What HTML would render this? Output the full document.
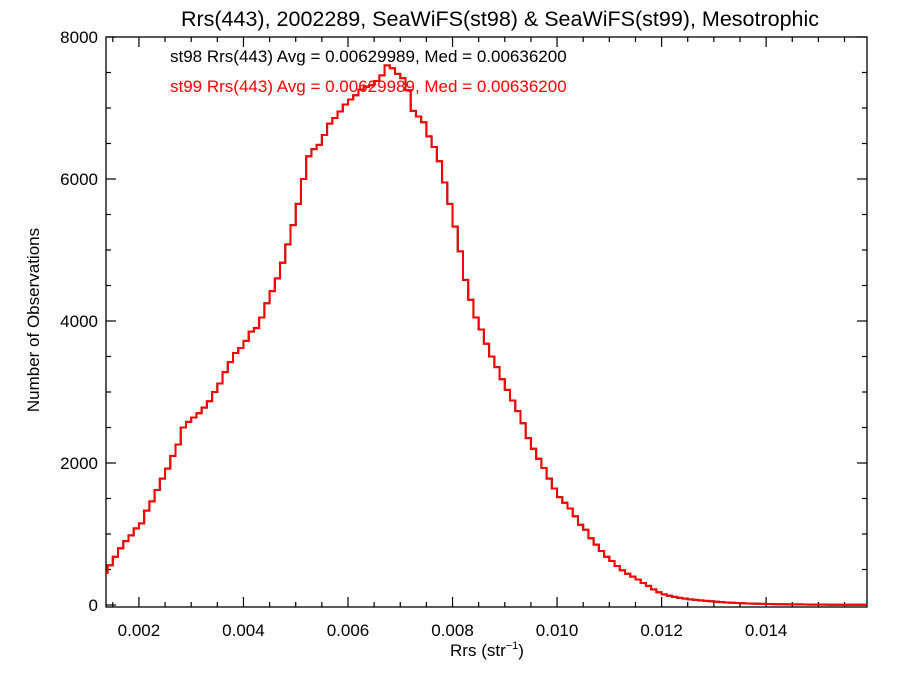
<!DOCTYPE html>
<html><head><meta charset="utf-8"><style>
body{margin:0;background:#fff;font-family:"Liberation Sans",sans-serif}
svg text{font-family:"Liberation Sans",sans-serif}
</style></head><body>
<svg id="chart" width="900" height="675" xmlns="http://www.w3.org/2000/svg">
<rect width="900" height="675" fill="#fff"/>
<text x="500" y="26" font-size="21.5" text-anchor="middle">Rrs(443), 2002289, SeaWiFS(st98) &amp; SeaWiFS(st99), Mesotrophic</text>
<g id="axes"></g>
<g id="series"></g>
<text x="170" y="62" font-size="17" fill="#000">st98 Rrs(443) Avg = 0.00629989, Med = 0.00636200</text>
<text x="170" y="92" font-size="17" fill="#ff0000">st99 Rrs(443) Avg = 0.00629989, Med = 0.00636200</text>
<text x="487" y="656" font-size="17" text-anchor="middle">Rrs (str<tspan font-size="11" dy="-7">−1</tspan><tspan dy="7">)</tspan></text>
<text x="0" y="0" font-size="17" text-anchor="middle" transform="translate(39,320) rotate(-90)">Number of Observations</text>
</svg>
<script>
const binStart = 0.0013;
const binWidth = 0.0001;
const counts = [450,560,680,800,900,980,1080,1150,1330,1460,1620,1780,1920,2100,2260,2500,2580,2640,2700,2780,2870,3000,3120,3280,3420,3550,3620,3720,3850,3900,4050,4250,4420,4600,4820,5080,5350,5650,6000,6320,6420,6480,6620,6780,6860,6950,7050,7120,7180,7260,7300,7320,7380,7460,7600,7560,7480,7420,7250,6960,6880,6800,6600,6450,6250,5950,5650,5330,4980,4580,4300,4050,3880,3680,3500,3350,3180,3030,2880,2730,2560,2350,2200,2060,1930,1780,1640,1520,1440,1360,1250,1130,1060,940,850,760,680,620,550,490,440,400,360,310,270,220,180,150,130,115,100,90,80,72,65,58,52,46,40,36,32,28,25,22,20,18,16,14,12,11,10,9,8,8,7,6,6,5,5,4,4,4,3,3,3,3,3];
const xTicks = [0.002,0.004,0.006,0.008,0.010,0.012,0.014];
const xTickLabels = ["0.002","0.004","0.006","0.008","0.010","0.012","0.014"];
const yTicks = [0,2000,4000,6000,8000];
const yTickLabels = ["0","2000","4000","6000","8000"];

const L=106,R=867,T=37,B=607;
const xmin=0.00137,xmax=0.01593;
const x=v=>L+(v-xmin)/(xmax-xmin)*(R-L);
const y=v=>605-v*(568/8000);
const NS="http://www.w3.org/2000/svg";
const axes=document.getElementById('axes');
function mk(tag,attrs,parent){const e=document.createElementNS(NS,tag);for(const k in attrs)e.setAttribute(k,attrs[k]);parent.appendChild(e);return e;}
const frame=mk('rect',{x:L,y:T,width:R-L,height:B-T,fill:'none',stroke:'#000','stroke-width':1.3},axes);


for(let v=0.0015;v<=0.0159;v+=0.0005){
  const px=x(v);const major=Math.abs(v/0.002-Math.round(v/0.002))<1e-6;const len=major?10:5;
  const t1=mk('line',{x1:px,x2:px,y1:B,y2:B-len,stroke:'#000','stroke-width':1.2},axes);
  
  
  const t2=mk('line',{x1:px,x2:px,y1:T,y2:T+len,stroke:'#000','stroke-width':1.2},axes);
  
  
}
xTicks.forEach((v,i)=>{
  const t=mk('text',{x:x(v),y:636,'font-size':17,'text-anchor':'middle'},axes);t.textContent=xTickLabels[i];
  
  
});
for(let v=0;v<=8000;v+=500){
  const py=y(v);const major=v%2000===0;const len=major?10:5;
  const t1=mk('line',{x1:L,x2:L+len,y1:py,y2:py,stroke:'#000','stroke-width':1.2},axes);
  
  
  const t2=mk('line',{x1:R,x2:R-len,y1:py,y2:py,stroke:'#000','stroke-width':1.2},axes);
  
  
}
yTicks.forEach((v,i)=>{
  const t=mk('text',{x:98,y:y(v)+6,'font-size':17,'text-anchor':'end'},axes);t.textContent=yTickLabels[i];
  
  
});
const defs=mk('defs',{},document.getElementById('chart'));
const cp=mk('clipPath',{id:'clip'},defs);
mk('rect',{x:L,y:T,width:R-L,height:B-T},cp);
let d='';
counts.forEach((c,i)=>{
  const x0=x(binStart+i*binWidth),x1=x(binStart+(i+1)*binWidth),py=y(c);
  d+=(i===0?'M':'L')+x0.toFixed(2)+','+py.toFixed(2)+'L'+x1.toFixed(2)+','+py.toFixed(2);
});
const ser=document.getElementById('series');
const p98=mk('path',{d:d,fill:'none',stroke:'#000','stroke-width':2,'clip-path':'url(#clip)'},ser);


const p99=mk('path',{d:d,fill:'none',stroke:'#ff0000','stroke-width':2,'clip-path':'url(#clip)'},ser);


</script>
</body></html>
